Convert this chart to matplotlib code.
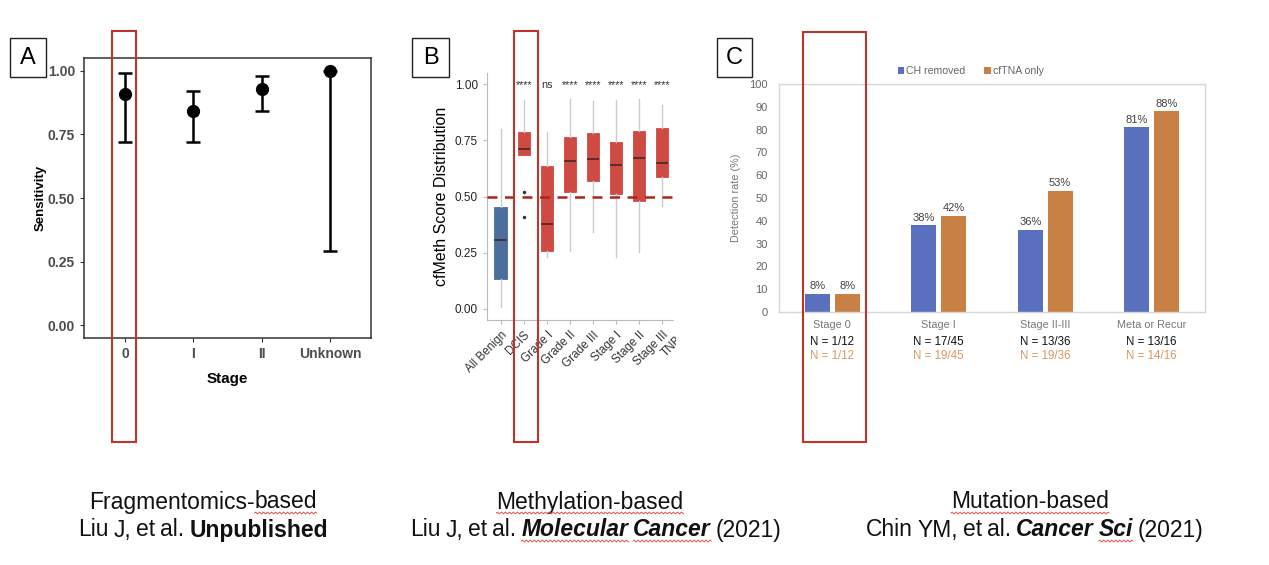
"""Three-panel summary figure: fragmentomics, methylation and mutation based detection."""

import numpy as np
import matplotlib
matplotlib.use("Agg")
import matplotlib.pyplot as plt
from matplotlib.patches import Rectangle
from matplotlib.lines import Line2D
from matplotlib.offsetbox import TextArea, HPacker, AnnotationBbox
from matplotlib.transforms import Bbox, TransformedBbox, IdentityTransform

plt.rcParams["font.family"] = ["Liberation Sans", "DejaVu Sans"]

# Panel A: sensitivity by stage (point + 95% CI)
a_stages = ["0", "I", "II", "Unknown"]
a_sens = [0.91, 0.84, 0.93, 1.00]
a_low = [0.72, 0.72, 0.84, 0.29]
a_high = [0.99, 0.92, 0.98, 1.00]

# Panel B: cfMeth score boxplots
b_groups = ["All Benign", "DCIS", "Grade I", "Grade II", "Grade III",
            "Stage I", "Stage II", "Stage III"]
b_med = [0.307, 0.711, 0.378, 0.658, 0.667, 0.639, 0.673, 0.649]
b_q1 = [0.132, 0.684, 0.259, 0.521, 0.569, 0.513, 0.479, 0.588]
b_q3 = [0.455, 0.788, 0.636, 0.764, 0.782, 0.744, 0.791, 0.804]
b_lo = [0.010, 0.684, 0.232, 0.259, 0.344, 0.232, 0.252, 0.458]
b_hi = [0.800, 0.929, 0.788, 0.933, 0.926, 0.929, 0.932, 0.907]
b_fliers = [[], [0.521, 0.408], [], [], [], [], [], []]
b_sig = ["", "****", "ns", "****", "****", "****", "****", "****"]
b_is_benign = [True, False, False, False, False, False, False, False]
b_cutoff = 0.5

# Panel C: detection rate
c_cats = ["Stage 0", "Stage I", "Stage II-III", "Meta or Recur"]
c_ch_removed = [8, 38, 36, 81]
c_cftna_only = [8, 42, 53, 88]
c_n_ch = ["1/12", "17/45", "13/36", "13/16"]
c_n_tna = ["1/12", "19/45", "19/36", "14/16"]

W, H = 1269, 565
fig = plt.figure(figsize=(W / 100, H / 100), dpi=100)


def rect(x0, y0, x1, y1):
    # pixel box (top-left origin) -> figure fraction rect
    return [x0 / W, 1 - y1 / H, (x1 - x0) / W, (y1 - y0) / H]


def frame(x0, y0, x1, y1, color, lw):
    fig.add_artist(Rectangle((x0 / W, 1 - y1 / H), (x1 - x0) / W, (y1 - y0) / H,
                             transform=fig.transFigure, fill=False,
                             edgecolor=color, linewidth=lw, zorder=10))


def letter(x0, y0, x1, y1, s):
    frame(x0, y0, x1, y1, "#222222", 1.0)
    fig.text((x0 + x1) / 2 / W, 1 - (y0 + y1) / 2 / H, s, ha="center",
             va="center", fontsize=17)


# ---------------- Panel A ----------------
axA = fig.add_axes(rect(84, 58, 371, 338))
xa = range(1, len(a_stages) + 1)
yerr = [[s - l for s, l in zip(a_sens, a_low)], [h - s for s, h in zip(a_sens, a_high)]]
axA.errorbar(xa, a_sens, yerr=yerr, fmt="o", color="black", ms=8.5, lw=1.8,
             capsize=5, capthick=1.8)
axA.set_xlim(0.4, 4.6)
axA.set_ylim(-0.05, 1.05)
axA.set_yticks([0, 0.25, 0.5, 0.75, 1.0])
axA.set_yticklabels(["0.00", "0.25", "0.50", "0.75", "1.00"])
axA.set_xticks(list(xa))
axA.set_xticklabels(a_stages)
for lab in axA.get_xticklabels() + axA.get_yticklabels():
    lab.set_fontweight("bold")
axA.tick_params(labelsize=10, labelcolor="#4d4d4d", color="#333333", length=3)
for sp in axA.spines.values():
    sp.set_color("#333333")
    sp.set_linewidth(1.1)
axA.set_xlabel("Stage", fontsize=11, fontweight="bold", labelpad=8)
axA.set_ylabel("Sensitivity", fontsize=9.5, fontweight="bold", labelpad=1)
letter(10, 38, 46, 77, "A")

# ---------------- Panel B ----------------
axB = fig.add_axes(rect(487, 73, 673, 320))
stats = [dict(med=m, q1=q1, q3=q3, whislo=lo, whishi=hi, fliers=f)
         for m, q1, q3, lo, hi, f in zip(b_med, b_q1, b_q3, b_lo, b_hi, b_fliers)]
xb = list(range(1, len(b_groups) + 1))
bp = axB.bxp(stats, positions=xb, widths=0.55, patch_artist=True, showcaps=False,
             medianprops=dict(color="#4a2626", lw=1.2),
             whiskerprops=dict(color="#cccccc", lw=1.0),
             flierprops=dict(marker="o", ms=2.5, mfc="#333333", mec="none"))
for box, benign in zip(bp["boxes"], b_is_benign):
    c = "#4a6f9f" if benign else "#d04a44"
    box.set_facecolor(c)
    box.set_edgecolor(c)
    box.set_linewidth(0.6)
axB.axhline(b_cutoff, color="#b0231d", lw=1.8, ls=(0, (4, 3)), zorder=3)
for x, s in zip(xb, b_sig):
    if s:
        axB.text(x, 0.982, s, ha="center", va="baseline", fontsize=7.8,
                 color="#333333")
axB.set_xlim(0.4, 8.48)
axB.set_ylim(-0.05, 1.05)
axB.set_yticks([0, 0.25, 0.5, 0.75, 1.0])
axB.set_yticklabels(["0.00", "0.25", "0.50", "0.75", "1.00"])
axB.set_xticks(xb)
axB.set_xticklabels(b_groups, rotation=45, ha="right", rotation_mode="anchor")
axB.tick_params(axis="y", labelsize=8.5, labelcolor="#222222", color="#bbbbbb", length=3)
axB.tick_params(axis="x", labelsize=8.5, labelcolor="#333333", color="#bbbbbb", length=3)
for side in ["top", "right"]:
    axB.spines[side].set_visible(False)
for side in ["left", "bottom"]:
    axB.spines[side].set_color("#bbbbbb")
axB.set_ylabel("cfMeth Score Distribution", fontsize=11.5, labelpad=4)
# truncated label of the next group, cut at the panel edge
tn = axB.annotate("TNBC", xy=(9, 0), xycoords=("data", "axes fraction"),
                  xytext=(-2, -6), textcoords="offset points", rotation=45,
                  ha="right", va="top", rotation_mode="anchor", fontsize=8.5,
                  color="#333333", annotation_clip=False)
tn.set_clip_box(TransformedBbox(Bbox([[0, 0], [676 / W, 1]]), fig.transFigure))
tn.set_clip_on(True)
letter(412, 38, 449, 77, "B")

# ---------------- Panel C ----------------
axC = fig.add_axes(rect(779, 84, 1205, 312))
xc = list(range(len(c_cats)))
blue, orange = "#5a6fbd", "#c98045"
b1 = axC.bar([x - 0.14 for x in xc], c_ch_removed, width=0.235, color=blue)
b2 = axC.bar([x + 0.14 for x in xc], c_cftna_only, width=0.235, color=orange)
axC.bar_label(b1, labels=[f"{v}%" for v in c_ch_removed], padding=2,
              fontsize=8, color="#404040")
axC.bar_label(b2, labels=[f"{v}%" for v in c_cftna_only], padding=2,
              fontsize=8, color="#404040")
axC.set_xlim(-0.5, 3.5)
axC.set_ylim(0, 100)
axC.set_yticks(range(0, 101, 10))
axC.set_xticks(xc)
axC.set_xticklabels(c_cats)
axC.tick_params(axis="y", length=0, labelsize=8, labelcolor="#666666", pad=8)
axC.tick_params(axis="x", length=0, labelsize=7.8, labelcolor="#777777", pad=6)
for sp in axC.spines.values():
    sp.set_color("#d6d6d6")
    sp.set_linewidth(1.0)
for x, n1, n2 in zip(xc, c_n_ch, c_n_tna):
    axC.annotate(f"N = {n1}", xy=(x, 0), xycoords=("data", "axes fraction"),
                 xytext=(0, -21.5), textcoords="offset points", ha="center",
                 va="center", fontsize=8.3, color="#111111")
    axC.annotate(f"N = {n2}", xy=(x, 0), xycoords=("data", "axes fraction"),
                 xytext=(0, -31.5), textcoords="offset points", ha="center",
                 va="center", fontsize=8.3, color="#d9975f")
axC.set_ylabel("Detection rate (%)", fontsize=7.8, color="#777777", labelpad=6)
leg = axC.legend([b1, b2], ["CH removed", "cfTNA only"], loc="center",
                 bbox_to_anchor=(0.45, 1.057), ncol=2, frameon=False, fontsize=7.6,
                 handlelength=0.6, handleheight=0.6, handletextpad=0.2,
                 columnspacing=1.8)
for t in leg.get_texts():
    t.set_color("#666666")
letter(717, 38, 752, 77, "C")

# highlight frames around the earliest stage in each panel
red = "#c0332b"
frame(112, 31, 136, 442, red, 1.5)
frame(514, 31, 538, 442, red, 1.5)
frame(803, 32, 866, 442, red, 1.5)

# ---------------- captions ----------------
cap_size = 16.5
wavy_areas = []


def caption(cx, cy, words):
    # words: list of word groups, each a list of (text, props, spell-check mark)
    groups = []
    for word in words:
        frags = []
        for s, kw, wavy in word:
            ta = TextArea(s, textprops=dict(fontsize=cap_size, color="#111111", **kw))
            if wavy:
                wavy_areas.append(ta)
            frags.append(ta)
        groups.append(HPacker(children=frags, align="baseline", pad=0, sep=0))
    pack = HPacker(children=groups, align="baseline", pad=0, sep=3.5)
    ab = AnnotationBbox(pack, (cx / W, 1 - cy / H), xycoords="figure fraction",
                        frameon=False, box_alignment=(0.5, 0.5))
    fig.add_artist(ab)


BI = dict(fontweight="bold", fontstyle="italic")
caption(203, 502, [[("Fragmentomics-", {}, False), ("based", {}, True)]])
caption(590, 502, [[("Methylation-based", {}, True)]])
caption(1030, 502, [[("Mutation-based", {}, True)]])
caption(203, 530, [[("Liu", {}, False)], [("J,", {}, False)], [("et", {}, False)],
                   [("al.", {}, False)], [("Unpublished", dict(fontweight="bold"), False)]])
caption(596, 530, [[("Liu", {}, False)], [("J,", {}, False)], [("et", {}, False)],
                   [("al.", {}, False)], [("Molecular", BI, True)],
                   [("Cancer", BI, True)], [("(2021)", {}, False)]])
caption(1035, 530, [[("Chin", {}, False)], [("YM,", {}, False)], [("et", {}, False)],
                    [("al.", {}, False)], [("Cancer", BI, False)],
                    [("Sci", BI, True)], [("(2021)", {}, False)]])

# red spell-check squiggles under flagged words
fig.canvas.draw()
renderer = fig.canvas.get_renderer()
for ta in wavy_areas:
    bb = ta.get_window_extent(renderer)
    xs = np.arange(bb.x0, bb.x1 + 0.5, 1.0)
    ys = bb.y0 + 0.5 + 0.9 * np.sin((xs - bb.x0) * np.pi / 2)
    fig.add_artist(Line2D(xs, ys, transform=IdentityTransform(), color="#e0504a",
                          lw=0.7, zorder=11))

fig.savefig("out.png", dpi=100)
